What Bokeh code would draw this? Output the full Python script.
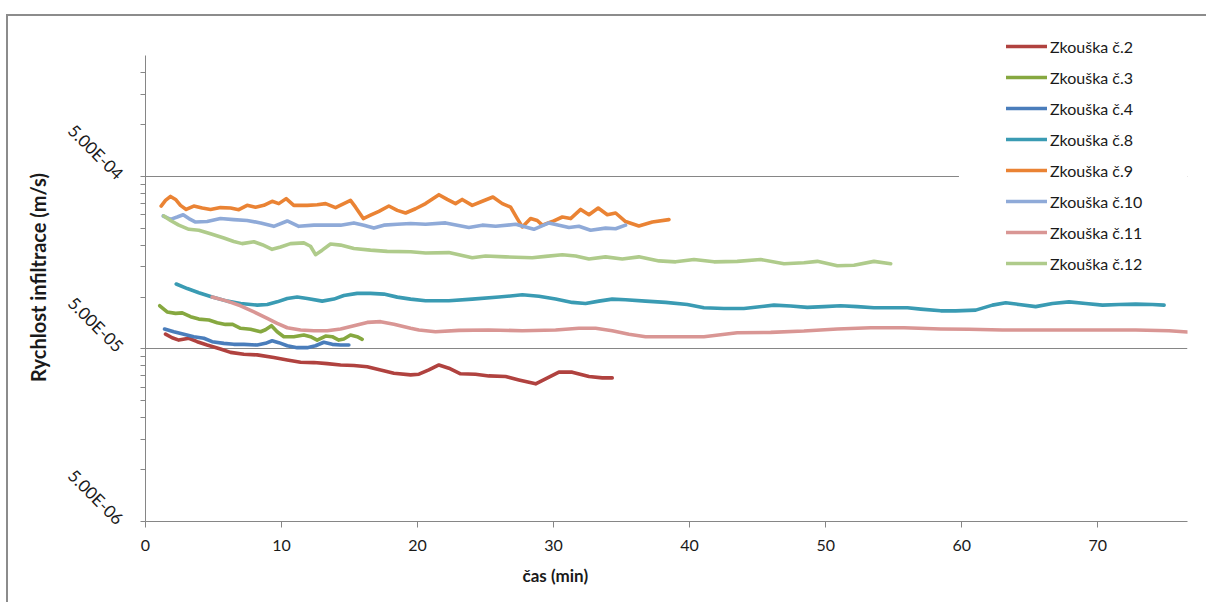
from bokeh.plotting import figure
from bokeh.models import (Range1d, FixedTicker, CustomJSTickFormatter, Legend, LegendItem,
                          BoxAnnotation, Title)
from bokeh.embed import file_html
from bokeh.resources import INLINE

# ---------------- data ----------------
series_names = ["Zkouška č.2", "Zkouška č.3", "Zkouška č.4", "Zkouška č.8",
                "Zkouška č.9", "Zkouška č.10", "Zkouška č.11", "Zkouška č.12"]
series_colors = ["#B0423F", "#86A840", "#4A7DBB", "#3A9BB3",
                 "#EA8334", "#8FAAD8", "#D99694", "#AFCB8B"]

t2 = [1.47, 1.96, 2.45, 3.19, 3.80, 4.53, 5.51, 6.25, 7.23, 8.21, 9.43, 10.42, 11.40, 12.38,
      13.36, 14.34, 15.32, 16.30, 17.28, 18.26, 19.49, 20.10, 20.83, 21.57, 22.30, 23.16,
      24.26, 25.24, 26.47, 27.45, 28.68, 29.41, 30.39, 31.37, 32.60, 33.58, 34.31]
v2 = [6.10e-5, 5.81e-5, 5.63e-5, 5.77e-5, 5.51e-5, 5.27e-5, 5.00e-5, 4.78e-5, 4.66e-5, 4.62e-5,
      4.46e-5, 4.32e-5, 4.19e-5, 4.17e-5, 4.11e-5, 4.04e-5, 4.01e-5, 3.94e-5, 3.78e-5, 3.62e-5,
      3.54e-5, 3.57e-5, 3.78e-5, 4.04e-5, 3.87e-5, 3.59e-5, 3.57e-5, 3.49e-5, 3.46e-5, 3.31e-5,
      3.14e-5, 3.35e-5, 3.67e-5, 3.67e-5, 3.46e-5, 3.40e-5, 3.40e-5]

t3 = [1.05, 1.59, 2.21, 2.70, 3.31, 3.92, 4.66, 5.27, 5.88, 6.37, 6.99, 7.72, 8.46, 8.82,
      9.26, 9.68, 10.17, 10.90, 11.64, 12.13, 12.62, 13.24, 13.73, 14.21, 14.58, 15.07, 15.56, 15.93]
v3 = [8.90e-5, 8.20e-5, 8.04e-5, 8.10e-5, 7.69e-5, 7.45e-5, 7.36e-5, 7.10e-5, 6.94e-5, 6.96e-5,
      6.59e-5, 6.50e-5, 6.29e-5, 6.46e-5, 6.82e-5, 6.29e-5, 5.89e-5, 5.89e-5, 6.02e-5, 5.89e-5,
      5.63e-5, 5.94e-5, 5.89e-5, 5.63e-5, 5.71e-5, 6.02e-5, 5.89e-5, 5.69e-5]

t4 = [1.40, 2.08, 2.82, 3.55, 4.29, 4.90, 5.76, 6.49, 7.23, 8.21, 8.82, 9.31, 9.80, 10.42,
      11.15, 11.89, 12.50, 13.11, 13.73, 14.34, 14.95]
v4 = [6.53e-5, 6.29e-5, 6.08e-5, 5.89e-5, 5.77e-5, 5.51e-5, 5.39e-5, 5.32e-5, 5.32e-5, 5.27e-5,
      5.39e-5, 5.58e-5, 5.44e-5, 5.22e-5, 5.09e-5, 5.09e-5, 5.22e-5, 5.47e-5, 5.32e-5, 5.27e-5,
      5.27e-5]

t8 = [2.26, 3.07, 3.92, 4.90, 6.01, 6.99, 8.21, 8.95, 9.68, 10.42, 11.15, 11.89, 12.99, 13.85,
      14.58, 15.56, 16.54, 17.52, 18.51, 19.49, 20.59, 22.30, 24.02, 25.98, 27.70, 28.92, 30.15,
      31.37, 32.35, 33.33, 34.31, 35.29, 36.76, 38.24, 39.83, 41.05, 42.52, 43.99, 44.98, 46.20,
      47.43, 48.65, 49.88, 51.10, 52.33, 53.55, 54.78, 56.01, 56.99, 58.46, 59.56, 61.03, 62.26,
      63.24, 64.22, 65.44, 66.67, 67.89, 69.12, 70.35, 71.57, 72.79, 74.02, 74.88]
v8 = [1.19e-4, 1.12e-4, 1.06e-4, 1.00e-4, 9.47e-5, 9.18e-5, 8.98e-5, 9.06e-5, 9.38e-5, 9.81e-5,
      1.00e-4, 9.81e-5, 9.47e-5, 9.73e-5, 1.02e-4, 1.05e-4, 1.05e-4, 1.04e-4, 9.99e-5, 9.73e-5,
      9.51e-5, 9.51e-5, 9.73e-5, 1.00e-4, 1.03e-4, 1.01e-4, 9.73e-5, 9.31e-5, 9.18e-5, 9.47e-5,
      9.73e-5, 9.64e-5, 9.47e-5, 9.31e-5, 9.06e-5, 8.67e-5, 8.59e-5, 8.59e-5, 8.75e-5, 8.98e-5,
      8.87e-5, 8.71e-5, 8.80e-5, 8.90e-5, 8.80e-5, 8.67e-5, 8.67e-5, 8.67e-5, 8.51e-5, 8.32e-5,
      8.32e-5, 8.40e-5, 8.98e-5, 9.26e-5, 9.06e-5, 8.80e-5, 9.18e-5, 9.38e-5, 9.18e-5, 8.98e-5,
      9.06e-5, 9.10e-5, 9.06e-5, 8.98e-5]

t9 = [1.15, 1.47, 1.84, 2.21, 2.57, 2.99, 3.55, 4.17, 4.78, 5.51, 6.25, 6.86, 7.47, 8.09,
      8.70, 9.31, 9.80, 10.34, 10.90, 11.89, 12.62, 13.24, 13.97, 14.58, 15.07, 15.44, 16.01,
      16.54, 17.16, 17.89, 18.51, 19.12, 19.85, 20.59, 21.57, 22.18, 22.79, 23.28, 24.02, 24.76,
      25.54, 26.23, 26.84, 27.33, 27.70, 28.31, 28.80, 29.17, 29.90, 30.64, 31.25, 31.99, 32.60,
      33.28, 33.95, 34.56, 35.29, 36.27, 37.26, 38.48]
v9 = [3.37e-4, 3.63e-4, 3.83e-4, 3.68e-4, 3.40e-4, 3.22e-4, 3.37e-4, 3.28e-4, 3.22e-4, 3.30e-4,
      3.28e-4, 3.21e-4, 3.40e-4, 3.32e-4, 3.40e-4, 3.59e-4, 3.48e-4, 3.72e-4, 3.40e-4, 3.40e-4,
      3.43e-4, 3.48e-4, 3.30e-4, 3.48e-4, 3.63e-4, 3.32e-4, 2.85e-4, 2.98e-4, 3.14e-4, 3.37e-4,
      3.18e-4, 3.07e-4, 3.25e-4, 3.48e-4, 3.92e-4, 3.68e-4, 3.48e-4, 3.68e-4, 3.40e-4, 3.59e-4,
      3.80e-4, 3.48e-4, 3.32e-4, 2.85e-4, 2.55e-4, 2.85e-4, 2.78e-4, 2.61e-4, 2.74e-4, 2.91e-4,
      2.85e-4, 3.22e-4, 3.00e-4, 3.28e-4, 3.00e-4, 3.07e-4, 2.74e-4, 2.58e-4, 2.72e-4, 2.81e-4]

t10 = [1.30, 1.84, 2.33, 2.77, 3.19, 3.68, 4.53, 5.51, 6.49, 7.47, 8.46, 9.43, 10.42, 11.27,
       12.38, 13.36, 14.34, 15.32, 16.05, 16.79, 17.52, 18.51, 19.49, 20.59, 22.06, 23.77, 24.76,
       25.74, 27.21, 28.55, 29.66, 31.13, 31.86, 32.72, 33.82, 34.56, 35.29]
v10 = [2.95e-4, 2.82e-4, 2.91e-4, 3.00e-4, 2.85e-4, 2.72e-4, 2.74e-4, 2.85e-4, 2.81e-4, 2.78e-4,
       2.69e-4, 2.57e-4, 2.76e-4, 2.57e-4, 2.61e-4, 2.61e-4, 2.61e-4, 2.69e-4, 2.61e-4, 2.51e-4,
       2.61e-4, 2.64e-4, 2.67e-4, 2.64e-4, 2.69e-4, 2.53e-4, 2.61e-4, 2.57e-4, 2.64e-4, 2.47e-4,
       2.69e-4, 2.53e-4, 2.57e-4, 2.44e-4, 2.51e-4, 2.49e-4, 2.61e-4]

t11 = [4.90, 6.01, 6.99, 7.97, 8.95, 9.68, 10.42, 11.40, 12.38, 13.36, 14.34, 15.32, 16.30,
       17.28, 18.26, 19.49, 20.10, 21.32, 23.04, 25.24, 27.70, 30.15, 31.86, 33.09, 34.31, 35.54,
       36.76, 38.97, 41.05, 43.50, 45.96, 48.40, 50.86, 53.31, 55.76, 58.46, 60.54, 62.99, 65.44,
       67.89, 70.35, 72.79, 75.24, 76.59]
v11 = [1.00e-4, 9.47e-5, 8.90e-5, 8.20e-5, 7.52e-5, 7.04e-5, 6.64e-5, 6.44e-5, 6.38e-5, 6.38e-5,
       6.53e-5, 6.82e-5, 7.13e-5, 7.20e-5, 6.96e-5, 6.59e-5, 6.44e-5, 6.29e-5, 6.41e-5, 6.44e-5,
       6.38e-5, 6.44e-5, 6.59e-5, 6.59e-5, 6.38e-5, 6.08e-5, 5.89e-5, 5.89e-5, 5.89e-5, 6.21e-5,
       6.24e-5, 6.35e-5, 6.53e-5, 6.64e-5, 6.64e-5, 6.53e-5, 6.50e-5, 6.44e-5, 6.44e-5, 6.44e-5,
       6.44e-5, 6.44e-5, 6.38e-5, 6.27e-5]

t12 = [1.35, 1.84, 2.45, 3.19, 3.92, 4.78, 5.76, 6.49, 7.11, 7.97, 8.58, 9.31, 9.93, 10.66,
       11.64, 12.13, 12.50, 12.99, 13.60, 14.34, 15.32, 16.54, 17.77, 19.49, 20.59, 22.30, 24.02,
       25.00, 26.47, 28.43, 29.41, 30.64, 31.62, 32.60, 33.82, 35.05, 36.27, 37.75, 38.97, 40.32,
       41.79, 43.50, 45.22, 46.94, 48.40, 49.39, 50.86, 52.08, 53.55, 54.78]
v12 = [2.95e-4, 2.78e-4, 2.61e-4, 2.47e-4, 2.44e-4, 2.33e-4, 2.20e-4, 2.10e-4, 2.04e-4, 2.09e-4,
       2.01e-4, 1.89e-4, 1.95e-4, 2.04e-4, 2.06e-4, 1.97e-4, 1.76e-4, 1.87e-4, 2.03e-4, 2.00e-4,
       1.91e-4, 1.87e-4, 1.84e-4, 1.83e-4, 1.80e-4, 1.81e-4, 1.69e-4, 1.73e-4, 1.71e-4, 1.69e-4,
       1.72e-4, 1.76e-4, 1.73e-4, 1.66e-4, 1.71e-4, 1.66e-4, 1.71e-4, 1.62e-4, 1.60e-4, 1.65e-4,
       1.60e-4, 1.61e-4, 1.65e-4, 1.56e-4, 1.58e-4, 1.61e-4, 1.52e-4, 1.53e-4, 1.61e-4, 1.56e-4]

x_ticks = [0, 10, 20, 30, 40, 50, 60, 70]
y_ticks = [5e-6, 5e-5, 5e-4]
y_tick_labels = ["5.00E-06", "5.00E-05", "5.00E-04"]
y_minor_ticks = [1e-5, 1.5e-5, 2e-5, 2.5e-5, 3e-5, 3.5e-5, 4e-5, 4.5e-5,
                 1e-4, 1.5e-4, 2e-4, 2.5e-4, 3e-4, 3.5e-4, 4e-4, 4.5e-4,
                 1e-3, 1.5e-3, 2e-3]
y_axis_min, y_axis_max = 5e-6, 2.5e-3
x_title = "čas (min)"
y_title = "Rychlost infiltrace (m/s)"

all_t = [t2, t3, t4, t8, t9, t10, t11, t12]
all_v = [v2, v3, v4, v8, v9, v10, v11, v12]

# ---------------- figure ----------------
GRAY = "#868686"
FONT = "Lato"
TXT = "#1a1a1a"

p = figure(width=1200, height=588, output_backend="svg", toolbar_location=None,
           y_axis_type="log", x_range=Range1d(0, 76.6), y_range=Range1d(y_axis_min, 3.37e-3),
           min_border_left=137, min_border_right=21, min_border_top=17, min_border_bottom=83)
p.styles = {"margin-left": "6px", "margin-top": "14px",
            "border-left": "2px solid #8c8c8c", "border-top": "2px solid #8c8c8c"}
p.outline_line_color = None
p.background_fill_color = "white"
p.border_fill_color = "white"

p.xgrid.visible = False
p.ygrid.grid_line_color = GRAY
p.ygrid.grid_line_width = 1

# x axis
xa = p.xaxis[0]
xa.ticker = FixedTicker(ticks=x_ticks, minor_ticks=[])
xa.axis_line_color = GRAY
xa.major_tick_line_color = GRAY
xa.major_tick_in = 0
xa.major_tick_out = 6
xa.minor_tick_line_color = None
xa.major_label_text_font = FONT
xa.major_label_text_font_size = "16px"
xa.major_label_text_color = TXT
xa.major_label_standoff = 12

# y axis
ya = p.yaxis[0]
ya.bounds = (y_axis_min, y_axis_max)
ya.ticker = FixedTicker(ticks=y_ticks, minor_ticks=y_minor_ticks)
ya.formatter = CustomJSTickFormatter(args=dict(vals=y_ticks, labels=y_tick_labels), code="""
let best = 0, bd = Infinity;
for (let i = 0; i < vals.length; i++) {
  const d = Math.abs(Math.log10(vals[i]) - Math.log10(tick));
  if (d < bd) { bd = d; best = i; }
}
return labels[best];
""")
ya.axis_line_color = GRAY
ya.major_tick_line_color = GRAY
ya.minor_tick_line_color = GRAY
ya.major_tick_in = 0
ya.major_tick_out = 5
ya.minor_tick_in = 0
ya.minor_tick_out = 5
ya.major_label_orientation = -0.785398
ya.major_label_text_font = FONT
ya.major_label_text_font_size = "17px"
ya.major_label_text_color = TXT
ya.major_label_standoff = 20
ya.axis_label = y_title
ya.axis_label_text_font = FONT
ya.axis_label_text_font_style = "bold"
ya.axis_label_text_font_size = "20px"
ya.axis_label_text_color = TXT
ya.axis_label_standoff = 4

# lines
items = []
for name, col, t, v in zip(series_names, series_colors, all_t, all_v):
    r = p.line(t, v, line_color=col, line_width=3.6, line_join="round", line_cap="round")
    items.append(LegendItem(label=name, renderers=[r]))

# white legend area (covers the gridline like the Excel legend box)
p.add_layout(BoxAnnotation(left=59.8, bottom=1.1e-4, fill_color="white", fill_alpha=1.0,
                           line_color=None))

legend = Legend(items=items, location=(861, 248), orientation="vertical",
                background_fill_color="white", background_fill_alpha=1.0,
                border_line_color=None, padding=8, spacing=11, margin=0,
                glyph_width=41, glyph_height=20, label_height=20, label_standoff=3,
                label_text_font=FONT, label_text_font_size="16px", label_text_color=TXT)
p.add_layout(legend, "center")

# x axis title (offset to match the reference position)
p.add_layout(Title(text=x_title, align="left", offset=377, vertical_align="top",
                   text_font=FONT, text_font_style="bold", text_font_size="17px",
                   text_color=TXT, standoff=22), "below")

open("out.html", "w").write(file_html(p, INLINE))
